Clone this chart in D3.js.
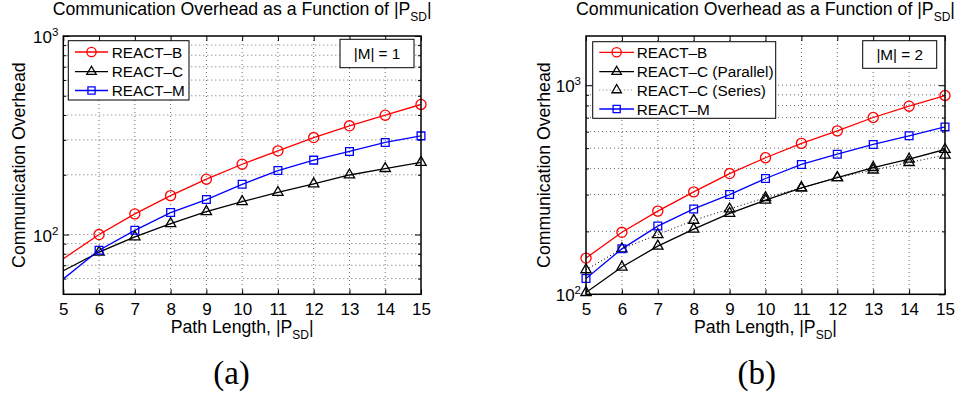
<!DOCTYPE html>
<html><head><meta charset="utf-8">
<script src="https://cdn.jsdelivr.net/npm/d3@7"></script>
<style>
body{margin:0;background:#fff}
svg{display:block}
text{font-family:"Liberation Sans",Arial,Helvetica,sans-serif;fill:#000}
</style>
</head><body>
<svg id="c" width="958" height="396"></svg>
<script>
// ---------- data ----------
const xValues = [5,6,7,8,9,10,11,12,13,14,15];
const xTickValues = [5,6,7,8,9,10,11,12,13,14,15];
// panel (a) |M| = 1
const aReactB = [75.5,100,127,157,190,226,264,308,353,399,452];
const aReactC = [65.7,81.5,97.4,113.5,130.5,146.5,163,180,199.5,215,231];
const aReactM = [59.8,83.4,105,129,150,179,210,237,262,291,314];
// panel (b) |M| = 2
const bReactB = [149,198,250,309,378,450,527,605,701,794,893];
const bReactCPar = [102,135,170,205,244,282,323,361,404,443,493];
const bReactCSer = [131,165,193,226,256,290,323,361,393,427,463];
const bReactM = [119,165,212,256,300,358,418,468,521,573,632];
const yMajorTicks = [100,1000];
const aLegendLabels = ["REACT\u2013B","REACT\u2013C","REACT\u2013M"];
const bLegendLabels = ["REACT\u2013B","REACT\u2013C (Parallel)","REACT\u2013C (Series)","REACT\u2013M"];

const svg = d3.select("#c");
const FL = 17.7;   // title / axis labels
const FT = 17;     // tick labels
const FG = 15.3;   // legend

function subText(sel, pre, sub, post){
  sel.text(pre);
  sel.append("tspan").attr("dy",6).attr("font-size",12).text(sub);
  sel.append("tspan").attr("dy",-6).attr("font-size",FL).text(post);
}

function panel(o){
  const x = d3.scaleLinear().domain([5,15]).range([o.l,o.r]);
  const y = d3.scaleLog().domain(o.yDomain).range([o.b,o.t]);
  const g = svg.append("g");
  const cid = "clip"+o.id;
  svg.append("defs").append("clipPath").attr("id",cid)
    .append("rect").attr("x",o.l).attr("y",o.t).attr("width",o.r-o.l).attr("height",o.b-o.t);

  const yGrid = [];
  [10,100,1000].forEach(d=>{ for(let k=1;k<=9;k++){const v=k*d; if(v>o.yDomain[0]+1e-6 && v<o.yDomain[1]-1e-6) yGrid.push(v);} });
  const yMinor = yGrid.filter(v=>!yMajorTicks.includes(v));
  const yMajor = yMajorTicks.filter(v=>v>=o.yDomain[0]&&v<=o.yDomain[1]);

  // grid
  const grid = g.append("g").attr("stroke","#444").attr("stroke-width",0.8).attr("stroke-dasharray","1,3");
  grid.selectAll("line.gx").data(xTickValues.filter(v=>v>5&&v<15)).join("line")
    .attr("x1",d=>x(d)).attr("x2",d=>x(d)).attr("y1",o.t).attr("y2",o.b);
  grid.selectAll("line.gy").data(yGrid).join("line")
    .attr("x1",o.l).attr("x2",o.r).attr("y1",d=>y(d)).attr("y2",d=>y(d));

  // axes
  const ax = g.append("g").attr("transform",`translate(0,${o.b})`)
    .call(d3.axisBottom(x).tickValues(xTickValues).tickFormat(d3.format("d")).tickSizeInner(-5).tickSizeOuter(0).tickPadding(8.5));
  g.append("g").attr("transform",`translate(0,${o.t})`)
    .call(d3.axisTop(x).tickValues(xTickValues).tickFormat("").tickSizeInner(-5).tickSizeOuter(0));
  const ay = g.append("g").attr("transform",`translate(${o.l},0)`)
    .call(d3.axisLeft(y).tickValues(yMajor).tickFormat("").tickSizeInner(-6).tickSizeOuter(0).tickPadding(5));
  g.append("g").attr("transform",`translate(${o.l},0)`)
    .call(d3.axisLeft(y).tickValues(yMinor).tickFormat("").tickSizeInner(-3).tickSizeOuter(0));
  g.append("g").attr("transform",`translate(${o.r},0)`)
    .call(d3.axisRight(y).tickValues(yMajor).tickFormat("").tickSizeInner(-6).tickSizeOuter(0));
  g.append("g").attr("transform",`translate(${o.r},0)`)
    .call(d3.axisRight(y).tickValues(yMinor).tickFormat("").tickSizeInner(-3).tickSizeOuter(0));
  g.selectAll(".domain").remove();
  g.selectAll(".tick line").attr("stroke","#000");
  ax.selectAll("text").attr("font-size",FT).attr("font-family",null);
  ay.selectAll(".tick").each(function(d){
    const t = d3.select(this).select("text");
    t.attr("font-size",FT).attr("font-family",null).attr("dy","0.38em").text("10");
    t.append("tspan").attr("dy",-7).attr("font-size",11.5).text(String(Math.round(Math.log10(d))));
  });
  g.selectAll(".tick text").attr("fill","#000");

  // data
  const dg = g.append("g").attr("clip-path",`url(#${cid})`);
  const mg = g.append("g");
  o.series.forEach(s=>{
    const pts = xValues.map((xv,i)=>[xv,s.values[i]]);
    dg.append("path").datum(pts)
      .attr("d",d3.line().x(d=>x(d[0])).y(d=>y(d[1])))
      .attr("fill","none").attr("stroke",s.color).attr("stroke-width",s.dash?1:1.3)
      .attr("stroke-dasharray",s.dash||null);
    mg.selectAll(null).data(pts.slice(o.markerStart)).join("path")
      .attr("transform",d=>`translate(${x(d[0])},${y(d[1])})`)
      .attr("d",d3.symbol(s.symbol,s.size)())
      .attr("fill","none").attr("stroke",s.color).attr("stroke-width",1.3);
  });

  // frame
  g.append("rect").attr("x",o.l).attr("y",o.t).attr("width",o.r-o.l).attr("height",o.b-o.t)
    .attr("fill","none").attr("stroke","#000").attr("stroke-width",1.5);

  // legend
  const L = o.legend;
  const lg = g.append("g");
  lg.append("rect").attr("x",L.x).attr("y",L.y).attr("width",L.w).attr("height",L.h)
    .attr("fill","#fff").attr("stroke","#000").attr("stroke-width",1);
  o.series.forEach((s,i)=>{
    const yy = L.rows[i];
    lg.append("line").attr("x1",L.lx1).attr("x2",L.lx2).attr("y1",yy).attr("y2",yy)
      .attr("stroke",s.dash?"#777":s.color).attr("stroke-width",s.dash?1:1.3).attr("stroke-dasharray",s.dash||null);
    lg.append("path").attr("transform",`translate(${(L.lx1+L.lx2)/2},${yy})`)
      .attr("d",d3.symbol(s.symbol,s.size*0.85)()).attr("fill","none").attr("stroke",s.color).attr("stroke-width",1.3);
    lg.append("text").attr("x",L.tx).attr("y",yy+5.5).attr("font-size",FG).text(o.labels[i]);
  });
  // |M| box
  const M = o.mbox;
  g.append("rect").attr("x",M.x).attr("y",M.y).attr("width",M.w).attr("height",M.h)
    .attr("fill","#fff").attr("stroke","#000").attr("stroke-width",1);
  g.append("text").attr("x",M.x+M.w/2).attr("y",M.y+19.5).attr("text-anchor","middle").attr("font-size",FG).text(o.mtext);

  // titles
  const cx = (o.l+o.r)/2;
  subText(g.append("text").attr("x",cx).attr("y",15).attr("text-anchor","middle").attr("font-size",FL),
    "Communication Overhead as a Function of |P","SD","|");
  subText(g.append("text").attr("x",cx).attr("y",333.3).attr("text-anchor","middle").attr("font-size",FL),
    "Path Length, |P","SD","|");
  g.append("text").attr("transform",`translate(${o.ylabX},${(o.t+o.b)/2}) rotate(-90)`)
    .attr("text-anchor","middle").attr("font-size",FL).text("Communication Overhead");
  g.append("text").attr("x",o.capX).attr("y",383.5).attr("text-anchor","middle")
    .style("font-family","'Liberation Serif','DejaVu Serif',serif").attr("font-size",33).text(o.caption);
}

panel({
  id:"a", l:63.3, r:421, t:36, b:294.3, yDomain:[50,1000], markerStart:1,
  series:[
    {values:aReactB, color:"#ff0000", symbol:d3.symbolCircle, size:80},
    {values:aReactC, color:"#000000", symbol:d3.symbolTriangle, size:46},
    {values:aReactM, color:"#0000ff", symbol:d3.symbolSquare, size:60}
  ],
  labels:aLegendLabels,
  legend:{x:68.3,y:40.7,w:120.7,h:59.3,rows:[52,71.7,90.5],lx1:75,lx2:108,tx:111.7},
  mbox:{x:340,y:39.3,w:74,h:28.4}, mtext:"|M| = 1",
  ylabX:25, capX:231.5, caption:"(a)"
});
panel({
  id:"b", l:586, r:945, t:36, b:294.3, yDomain:[100,1720], markerStart:0,
  series:[
    {values:bReactB, color:"#ff0000", symbol:d3.symbolCircle, size:80},
    {values:bReactCPar, color:"#000000", symbol:d3.symbolTriangle, size:46},
    {values:bReactCSer, color:"#000000", symbol:d3.symbolTriangle, size:46, dash:"1,2.5"},
    {values:bReactM, color:"#0000ff", symbol:d3.symbolSquare, size:60}
  ],
  labels:bLegendLabels,
  legend:{x:592.7,y:41.7,w:183,h:76.6,rows:[52.3,71.7,90,109],lx1:599.3,lx2:634,tx:636.7},
  mbox:{x:862.7,y:40.7,w:74,h:27.6}, mtext:"|M| = 2",
  ylabX:550, capX:756.7, caption:"(b)"
});
</script>
</body></html>
